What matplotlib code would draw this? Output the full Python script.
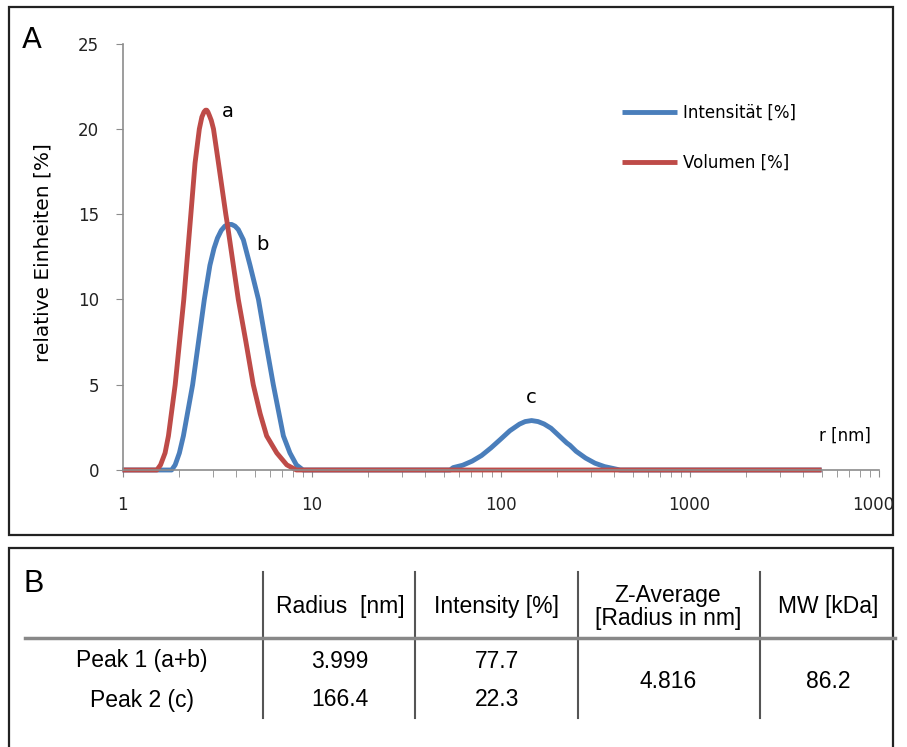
import matplotlib.pyplot as plt
from matplotlib.patches import Rectangle
from matplotlib.lines import Line2D
from matplotlib.ticker import FixedLocator, LogLocator, NullFormatter
from matplotlib.transforms import Bbox, TransformedBbox

# radius [nm] and relative units [%]
vol_r = [1.0, 1.52, 1.59, 1.68, 1.75, 1.90, 2.11, 2.30, 2.42, 2.55, 2.63, 2.70, 2.75, 2.79,
         2.83, 2.88, 2.95, 3.03, 3.20, 3.52, 3.59, 4.10, 4.50, 4.92, 5.35, 5.79, 6.55, 7.40,
         8.32, 5000]
vol_y = [0, 0, 0.3, 1, 2, 5, 10, 15, 18, 20, 20.7, 21.0, 21.1, 21.1,
         21.0, 20.8, 20.5, 20, 18.2, 15, 14.4, 10, 7.5, 5, 3.3, 2, 1, 0.3,
         0, 0]

int_r = [1.0, 1.82, 1.90, 2.00, 2.10, 2.35, 2.71, 2.90, 3.05, 3.18, 3.33, 3.48, 3.63, 3.78,
         3.94, 4.10, 4.36, 4.73, 5.24, 5.75, 6.28, 7.10, 7.69, 8.32, 9.02,
         54.1, 56.2, 63.1, 70.8, 79.4, 89.1, 100, 112, 126, 135, 146, 158, 170, 185, 200, 224,
         233, 251, 282, 316, 355, 398, 429, 5000]
int_y = [0, 0, 0.3, 1, 2, 5, 10, 12, 13, 13.6, 14.05, 14.3, 14.4, 14.4,
         14.3, 14.1, 13.5, 12, 10, 7.4, 5, 2, 1, 0.3, 0,
         0, 0.14, 0.28, 0.52, 0.85, 1.3, 1.8, 2.3, 2.69, 2.84, 2.9, 2.84, 2.7, 2.45, 2.1, 1.59,
         1.45, 1.1, 0.7, 0.4, 0.2, 0.08, 0, 0]

col_names = ['Radius  [nm]', 'Intensity [%]', 'Z-Average\n[Radius in nm]', 'MW [kDa]']
row_names = ['Peak 1 (a+b)', 'Peak 2 (c)']
radius = ['3.999', '166.4']
intensity = ['77.7', '22.3']
z_average = '4.816'
mw = '86.2'

blue = '#4a7ebb'
red = '#be4b48'
W, H = 907, 747

fig = plt.figure(figsize=(9.07, 7.47), dpi=100)

def fx(px):
    return px / W

def fy(py):
    return 1 - py / H

# panel frames
fig.add_artist(Rectangle((fx(9), fy(535)), fx(884), 528 / H, fill=False, ec='#222222', lw=1.6))
fig.add_artist(Rectangle((fx(9), fy(770)), fx(884), 222 / H, fill=False, ec='#222222', lw=1.6))

ax = fig.add_axes([fx(122.5), fy(470), 756 / W, 426.3 / H])
ax.plot(int_r, int_y, color=blue, lw=3.5, clip_on=False, label='Intensität [%]', solid_capstyle='butt')
ax.plot(vol_r, vol_y, color=red, lw=3.5, clip_on=False, label='Volumen [%]', solid_capstyle='butt')
ax.set_xscale('log')
ax.set_xlim(1, 10000)
ax.set_ylim(0, 25)
ax.xaxis.set_major_locator(FixedLocator([1, 10, 100, 1000, 10000]))
ax.set_xticklabels(['1', '10', '100', '1000', '10000'])
ax.xaxis.set_minor_locator(LogLocator(base=10, subs=range(2, 10)))
ax.xaxis.set_minor_formatter(NullFormatter())
ax.set_yticks([0, 5, 10, 15, 20, 25])
for s in ['top', 'right']:
    ax.spines[s].set_visible(False)
for s in ['left', 'bottom']:
    ax.spines[s].set_color('#8c8c8c')
    ax.spines[s].set_linewidth(1.2)
ax.tick_params(axis='x', which='both', direction='out', length=5, color='#8c8c8c', pad=14,
               labelsize=12, labelcolor='#222222')
ax.tick_params(axis='y', direction='out', length=5, color='#8c8c8c', pad=12,
               labelsize=12, labelcolor='#222222')
ax.set_ylabel('relative Einheiten [%]', fontsize=14.5)
ax.yaxis.set_label_coords(-0.093, 0.51)

# the last x label is cut by the panel frame in the reference
clip = TransformedBbox(Bbox.from_extents(0, 0, fx(893), 1), fig.transFigure)
for t in ax.xaxis.get_major_ticks():
    t.label1.set_clip_on(True)
    t.label1.set_clip_box(clip)

ax.text(3.6, 21.0, 'a', fontsize=14, ha='center', va='center')
ax.text(5.47, 13.2, 'b', fontsize=14, ha='center', va='center')
ax.text(145, 4.28, 'c', fontsize=14, ha='center', va='center')
ax.text(6640, 2.0, 'r [nm]', fontsize=12, ha='center', va='center')

ax.legend(loc='upper left', bbox_to_anchor=(fx(622), fy(104)), bbox_transform=fig.transFigure,
          frameon=False, fontsize=12, handlelength=3.3, handletextpad=0.35, labelspacing=1.9,
          borderpad=0, borderaxespad=0)

fig.text(fx(22), fy(40), 'A', fontsize=21, va='center', ha='left')

# table B
tfont = ['Liberation Sans', 'DejaVu Sans']
fig.text(fx(24), fy(584), 'B', fontsize=22, va='center', ha='left', family=tfont)
for xv in [263, 415, 578, 760]:
    fig.add_artist(Line2D([fx(xv), fx(xv)], [fy(572), fy(718)], color='#555555', lw=1.5))
fig.add_artist(Line2D([fx(25), fx(895)], [fy(638), fy(638)], color='#888888', lw=2.5))

col_x = [340, 497, 668, 828]
for cx, name in zip(col_x, col_names):
    fig.text(fx(cx), fy(607), name, fontsize=16.5, ha='center', va='center', family=tfont,
             linespacing=1.05)
for ry, name, rad, inten in zip([661, 700], row_names, radius, intensity):
    fig.text(fx(142), fy(ry), name, fontsize=16.5, ha='center', va='center', family=tfont)
    fig.text(fx(340), fy(ry), rad, fontsize=16.5, ha='center', va='center', family=tfont)
    fig.text(fx(497), fy(ry), inten, fontsize=16.5, ha='center', va='center', family=tfont)
fig.text(fx(668), fy(681), z_average, fontsize=16.5, ha='center', va='center', family=tfont)
fig.text(fx(828), fy(681), mw, fontsize=16.5, ha='center', va='center', family=tfont)

fig.savefig('out.png', dpi=100)
